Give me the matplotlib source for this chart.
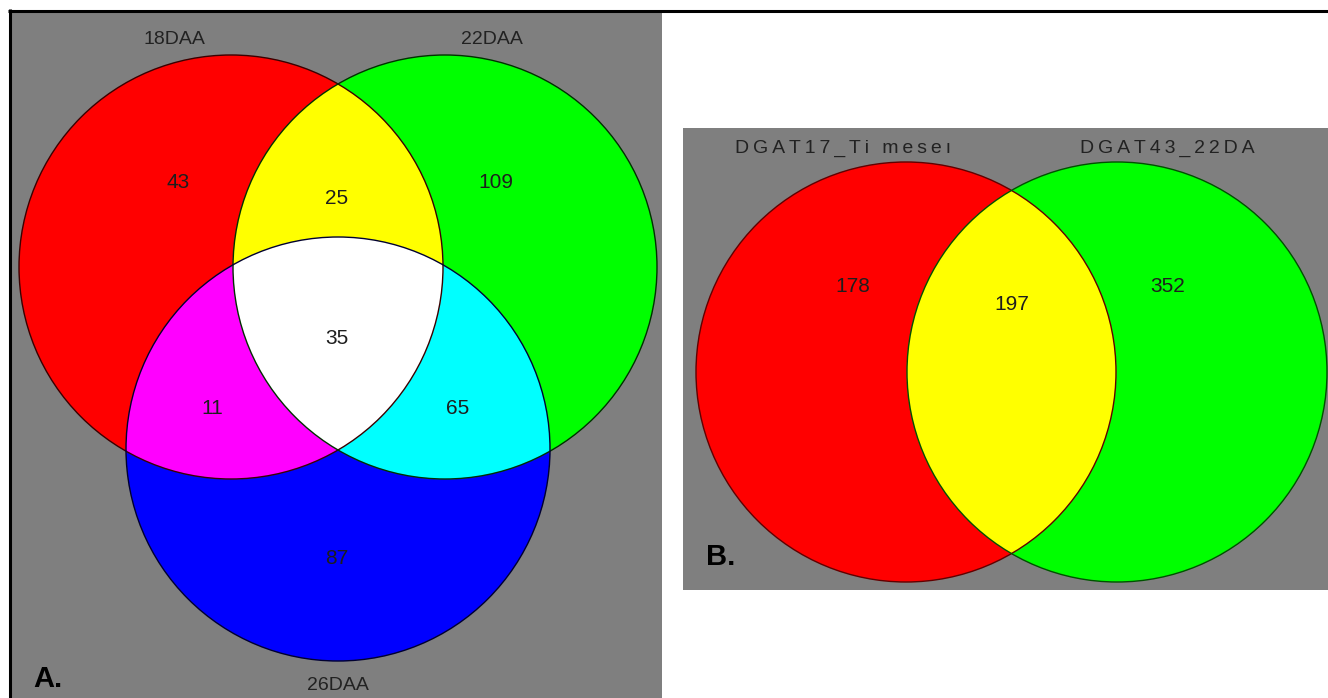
import numpy as np
import matplotlib.pyplot as plt
from matplotlib.patches import Circle

# panel A: three sets
sets_a = ['18DAA', '22DAA', '26DAA']
# regions: R only, R&G, G only, R&G&B, R&B, G&B, B only
counts_a = [43, 25, 109, 35, 11, 65, 87]
# panel B: two sets
sets_b = ['DGAT17_Ti meseı', 'DGAT43_22DA']
counts_b = [178, 197, 352]

plt.rcParams['font.family'] = ['Liberation Sans', 'DejaVu Sans']

fig = plt.figure(figsize=(13.28, 6.98), dpi=100)
ax = fig.add_axes([0, 0, 1, 1])
ax.set_xlim(0, 1328)
ax.set_ylim(698, 0)
ax.axis('off')

GRAY = (0.5, 0.5, 0.5)
TXT = '#1e1e1e'


def venn_raster(ax, box, circles, colors, ss=2):
    # box = x0, y0, x1, y1 ; circles = list of (cx, cy, r)
    x0, y0, x1, y1 = box
    xs = np.arange(x0, x1, 1.0 / ss) + 0.5 / ss
    ys = np.arange(y0, y1, 1.0 / ss) + 0.5 / ss
    X, Y = np.meshgrid(xs, ys)
    code = np.zeros(X.shape, dtype=int)
    for i, (cx, cy, r) in enumerate(circles):
        inside = (X - cx) ** 2 + (Y - cy) ** 2 <= r ** 2
        code += inside.astype(int) << i
    img = np.zeros(X.shape + (3,))
    for c, col in colors.items():
        img[code == c] = col
    ax.imshow(img, extent=(x0, x1, y1, y0), interpolation='antialiased', zorder=1)


# ---- panel A
circ_a = [(231, 267, 212), (445, 267, 212), (338, 449, 212)]
col_a = {0: GRAY, 1: (1, 0, 0), 2: (0, 1, 0), 3: (1, 1, 0),
         4: (0, 0, 1), 5: (1, 0, 1), 6: (0, 1, 1), 7: (1, 1, 1)}
venn_raster(ax, (11, 12, 662, 698), circ_a, col_a)
edge_a = ['#3a0000', '#003000', '#000030']
for (cx, cy, r), ec in zip(circ_a, edge_a):
    ax.add_patch(Circle((cx, cy), r, fill=False, ec=ec, lw=1.0, zorder=3))

lab_kw = dict(ha='center', va='center', fontsize=14, color='#222222', zorder=4,
              family=['Liberation Sans Narrow', 'Liberation Sans'])
ax.text(174, 39, sets_a[0], **lab_kw)
ax.text(492, 39, sets_a[1], **lab_kw)
ax.text(338, 686, sets_a[2], **lab_kw)

pos_a = [(178, 183), (337, 199), (496, 183), (337, 338), (212, 409), (458, 409), (337, 559)]
for (x, y), n in zip(pos_a, counts_a):
    ax.text(x, y, str(n), ha='center', va='center', fontsize=15, color=TXT, zorder=4)

ax.text(33, 679, 'A.', ha='left', va='center', fontsize=21, fontweight='bold', color='black', zorder=4)

# ---- panel B
circ_b = [(906, 372, 210), (1117, 372, 210)]
col_b = {0: GRAY, 1: (1, 0, 0), 2: (0, 1, 0), 3: (1, 1, 0)}
venn_raster(ax, (683, 128, 1328, 590), circ_b, col_b)
edge_b = ['#600000', '#005000']
for (cx, cy, r), ec in zip(circ_b, edge_b):
    ax.add_patch(Circle((cx, cy), r, fill=False, ec=ec, lw=1.0, zorder=3))

# the original labels are letter-spaced
ax.text(843, 148, '\u2009'.join(sets_b[0]), ha='center', va='center', fontsize=14,
        color='#222222', zorder=4)
ax.text(1167, 148, '\u2009'.join(sets_b[1]), ha='center', va='center', fontsize=14,
        color='#222222', zorder=4)

pos_b = [(853, 287), (1012, 305), (1168, 287)]
for (x, y), n in zip(pos_b, counts_b):
    ax.text(x, y, str(n), ha='center', va='center', fontsize=15, color=TXT, zorder=4)

ax.text(706, 557, 'B.', ha='left', va='center', fontsize=21, fontweight='bold', color='black', zorder=4)

# outer frame (top and left edges)
ax.plot([8, 1328], [10.5, 10.5], color='black', lw=2.2, solid_capstyle='butt', zorder=5)
ax.plot([9.5, 9.5], [9, 698], color='black', lw=2.2, solid_capstyle='butt', zorder=5)

fig.savefig('out.png', dpi=100, facecolor='white')
